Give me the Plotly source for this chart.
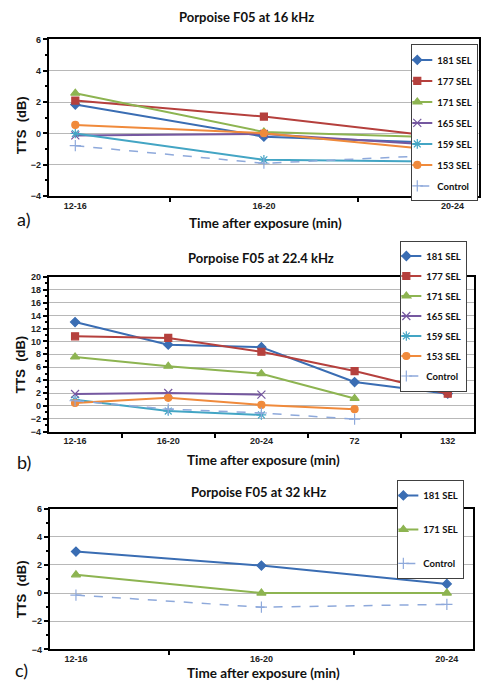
import plotly.graph_objects as go

W, H = 481, 686

# ---------------- data ----------------
cats_a = ["12-16", "16-20", "20-24"]
a_181 = [1.85, -0.2, -0.62]
a_177 = [2.1, 1.08, -0.3]
a_171 = [2.57, 0.1, -0.27]
a_165 = [-0.12, -0.03, -0.8]
a_159 = [0.0, -1.68, -1.8]
a_153 = [0.55, 0.02, -1.15]
a_ctl = [-0.78, -1.9, -1.35]

cats_b = ["12-16", "16-20", "20-24", "72", "132"]
b_181 = [13.0, 9.5, 9.1, 3.7, 1.9]
b_177 = [10.8, 10.55, 8.4, 5.4, 1.9]
b_171 = [7.6, 6.15, 5.0, 1.15, None]
b_165 = [1.85, 2.0, 1.75, None, None]
b_159 = [0.95, -0.8, -1.4, None, None]
b_153 = [0.45, 1.25, 0.15, -0.5, None]
b_ctl = [0.8, -0.5, -1.1, -2.05, None]

cats_c = ["12-16", "16-20", "20-24"]
c_181 = [2.95, 1.95, 0.65]
c_171 = [1.3, 0.0, 0.0]
c_ctl = [-0.14, -1.0, -0.8]

titles = ["Porpoise F05 at 16 kHz", "Porpoise F05 at 22.4 kHz", "Porpoise F05 at 32 kHz"]
panel_labels = ["a)", "b)", "c)"]

# ---------------- styles ----------------
series_style = {
    "181 SEL": dict(color="#3A6DB3", symbol="diamond", size=7, dash="solid"),
    "177 SEL": dict(color="#B5403D", symbol="square", size=7, dash="solid"),
    "171 SEL": dict(color="#8DB451", symbol="triangle-up", size=8, dash="solid"),
    "165 SEL": dict(color="#7558A0", symbol="x-thin", size=8, dash="solid"),
    "159 SEL": dict(color="#43A5C4", symbol="asterisk", size=8, dash="solid"),
    "153 SEL": dict(color="#F08A3B", symbol="circle", size=7, dash="solid"),
    "Control": dict(color="#8EA9DB", symbol="cross-thin", size=8, dash="dash"),
}

fig = go.Figure()

def add(name, cats, vals, xa, ya, legend):
    s = series_style[name]
    lw = 1.5 if s["dash"] == "dash" else 2
    fig.add_trace(go.Scatter(
        x=cats, y=vals, name=name, mode="lines+markers",
        xaxis=xa, yaxis=ya, legend=legend, legendgroup=legend + name,
        connectgaps=False,
        line=dict(color=s["color"], width=lw, dash=s["dash"]),
        marker=dict(symbol=s["symbol"], size=s["size"], color=s["color"],
                    line=dict(color=s["color"], width=1.2)),
    ))

for nm, v in [("181 SEL", a_181), ("177 SEL", a_177), ("171 SEL", a_171),
              ("165 SEL", a_165), ("159 SEL", a_159), ("153 SEL", a_153),
              ("Control", a_ctl)]:
    add(nm, cats_a, v, "x", "y", "legend")
for nm, v in [("181 SEL", b_181), ("177 SEL", b_177), ("171 SEL", b_171),
              ("165 SEL", b_165), ("159 SEL", b_159), ("153 SEL", b_153),
              ("Control", b_ctl)]:
    add(nm, cats_b, v, "x2", "y2", "legend2")
for nm, v in [("181 SEL", c_181), ("171 SEL", c_171), ("Control", c_ctl)]:
    add(nm, cats_c, v, "x3", "y3", "legend3")

tick_font = dict(family="Liberation Sans", size=9, color="#222", weight="bold")

def py(px):
    return 1 - px / H

def px_x(px):
    return px / W

panels = [
    # (top px, bottom px, left px, right px, yrange, dtick)
    (35, 194, 49, 481, [-4, 6], 2),
    (276, 433, 49, 476, [-4, 20], 2),
    (511, 654, 50, 475, [-4, 6], 2),
]

layout_axes = {}
for i, (top, bot, left, right, yr, dt) in enumerate(panels):
    sfx = "" if i == 0 else str(i + 1)
    layout_axes["xaxis" + sfx] = dict(
        domain=[px_x(left), px_x(right)], anchor="y" + sfx,
        type="category", tickson="boundaries", ticks="outside", ticklen=4,
        tickcolor="#000", tickwidth=1.5,
        showline=True, linecolor="#000", linewidth=2, mirror=True,
        showgrid=False, tickfont=tick_font, fixedrange=True,
    )
    layout_axes["yaxis" + sfx] = dict(
        domain=[py(bot), py(top)], anchor="x" + sfx,
        range=yr, dtick=dt, tick0=0, ticks="outside", ticklen=4,
        tickcolor="#000", tickwidth=1.5,
        showline=True, linecolor="#000", linewidth=2, mirror=True,
        showgrid=True, gridcolor="#B8B8B8", gridwidth=1,
        zeroline=False, tickfont=tick_font,
        minor=dict(ticks="outside", dtick=1, ticklen=2, tickcolor="#000", showgrid=False),
    )

ann = []
title_pos = [(248, 12), (262, 257), (260, 494)]
xt_pos = [(267, 221), (265, 462), (265, 678)]
yt_pos = [(21, 122), (21, 365), (21, 593)]
lab_pos = [(24, 217), (24, 464), (22, 675)]
for i in range(3):
    ann.append(dict(text=titles[i], x=px_x(title_pos[i][0]), y=py(title_pos[i][1]),
                    xref="paper", yref="paper", showarrow=False,
                    xanchor="center", yanchor="middle",
                    font=dict(family="Lato", size=13, color="#111", weight="bold")))
    ann.append(dict(text="Time after exposure (min)", x=px_x(xt_pos[i][0]), y=py(xt_pos[i][1]),
                    xref="paper", yref="paper", showarrow=False,
                    xanchor="center", yanchor="middle",
                    font=dict(family="Lato", size=13.5, color="#111", weight="bold")))
    ann.append(dict(text="TTS  (dB)", x=px_x(yt_pos[i][0]), y=py(yt_pos[i][1]),
                    xref="paper", yref="paper", showarrow=False, textangle=-90,
                    xanchor="center", yanchor="middle",
                    font=dict(family="Liberation Sans", size=13, color="#111", weight="bold")))
    ann.append(dict(text=panel_labels[i], x=px_x(lab_pos[i][0]), y=py(lab_pos[i][1]),
                    xref="paper", yref="paper", showarrow=False,
                    xanchor="center", yanchor="middle",
                    font=dict(family="Lato", size=18, color="#111")))

leg_font = dict(family="Lato", size=9.5, color="#111", weight="bold")
def leg(xpx, ypx, gap):
    return dict(x=px_x(xpx), y=py(ypx), xanchor="left", yanchor="top",
                bgcolor="white", bordercolor="#404040", borderwidth=1,
                font=leg_font, tracegroupgap=gap, itemwidth=30, indentation=-15,
                xref="paper", yref="paper")

fig.update_layout(
    width=W, height=H, margin=dict(l=0, r=0, t=0, b=0),
    paper_bgcolor="white", plot_bgcolor="white",
    showlegend=True,
    legend=leg(413, 40, 2),
    legend2=leg(402, 239, 1),
    legend3=leg(399, 482, 15),
    annotations=ann,
    **layout_axes,
)

fig.write_html("out.html", config={"displayModeBar": False},
               post_script="document.body.style.margin='0px';")
